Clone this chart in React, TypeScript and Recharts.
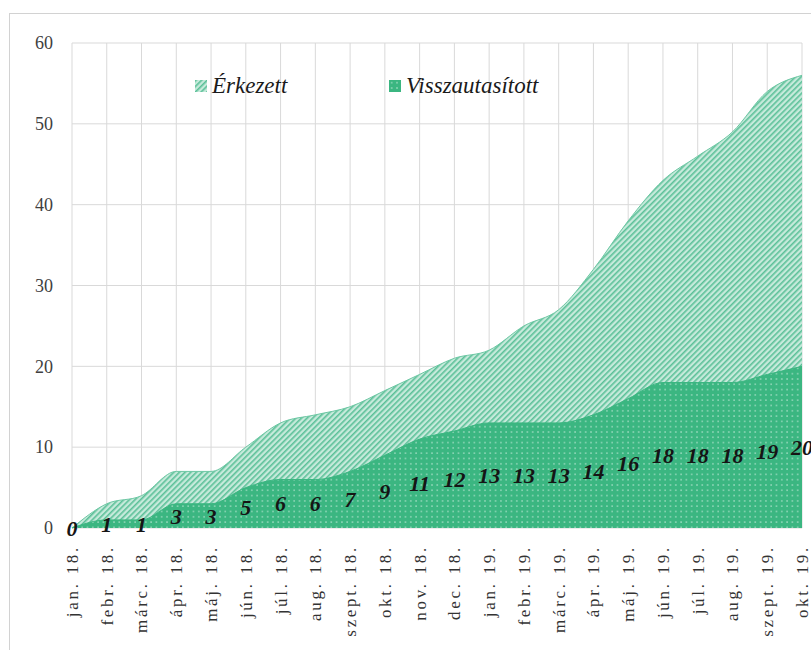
import { AreaChart, Area, XAxis, YAxis, CartesianGrid, Legend, LabelList } from 'recharts'

const months = [
  'jan. 18.', 'febr. 18.', 'márc. 18.', 'ápr. 18.', 'máj. 18.', 'jún. 18.', 'júl. 18.', 'aug. 18.',
  'szept. 18.', 'okt. 18.', 'nov. 18.', 'dec. 18.', 'jan. 19.', 'febr. 19.', 'márc. 19.', 'ápr. 19.',
  'máj. 19.', 'jún. 19.', 'júl. 19.', 'aug. 19.', 'szept. 19.', 'okt. 19.',
]
const arrived = [0, 3, 4, 7, 7, 10, 13, 14, 15, 17, 19, 21, 22, 25, 27, 32, 38, 43, 46, 49, 54, 56]
const rejected = [0, 1, 1, 3, 3, 5, 6, 6, 7, 9, 11, 12, 13, 13, 13, 14, 16, 18, 18, 18, 19, 20]
const yTicks = [0, 10, 20, 30, 40, 50, 60]

const data = months.map((m, i) => ({ month: m, arrived: arrived[i], rejected: rejected[i] }))

const W = 811
const H = 650
const TOP = 43
const X_AXIS_H = 122
const PLOT_BOTTOM = H - X_AXIS_H
const SERIF = "'Liberation Serif', 'Times New Roman', serif"

const XTick = ({ x, y, payload }: any) => (
  <text
    x={x}
    y={y + 17}
    transform={`rotate(-90, ${x}, ${y + 17})`}
    textAnchor="end"
    dy="0.35em"
    fill="#333"
    fontSize={17}
    letterSpacing={2.7}
    style={{ fontFamily: SERIF }}
  >
    {payload.value}
  </text>
)

const YTick = ({ x, y, payload }: any) => (
  <text x={x} y={y} dy="0.35em" textAnchor="end" fill="#404040" fontSize={18} style={{ fontFamily: SERIF }}>
    {payload.value}
  </text>
)

// value labels sit halfway up the rejected area
const MidLabel = ({ x, y, value }: any) => {
  const mid = (y + PLOT_BOTTOM) / 2
  return (
    <text
      x={x}
      y={mid}
      dy="0.35em"
      textAnchor="middle"
      fill="#151515"
      fontSize={22}
      fontWeight="bold"
      fontStyle="italic"
      style={{ fontFamily: SERIF }}
    >
      {value}
    </text>
  )
}

const legendItems = [
  { label: 'Érkezett', fill: 'url(#hatch)', width: 194 },
  { label: 'Visszautasított', fill: 'url(#dots)', width: 200 },
]

const renderLegend = () => (
  <div style={{ display: 'flex', alignItems: 'center' }}>
    {legendItems.map((it) => (
      <div key={it.label} style={{ width: it.width, display: 'flex', alignItems: 'center' }}>
        <svg width={12} height={12} style={{ marginRight: 5 }}>
          <rect width={12} height={12} fill={it.fill} />
        </svg>
        <span style={{ fontFamily: SERIF, fontStyle: 'italic', fontSize: 23, color: '#1a1a1a' }}>{it.label}</span>
      </div>
    ))}
  </div>
)

export default function App() {
  return (
    <div style={{ position: 'absolute', left: 0, top: 0, width: W, height: H, overflow: 'hidden', background: '#fff' }}>
      <div
        style={{
          position: 'absolute',
          left: 9,
          top: 13,
          width: 900,
          height: 700,
          border: '1px solid #d2d2d2',
        }}
      />
      <div style={{ position: 'absolute', left: 0, top: 0 }}>
        <AreaChart width={W} height={H} data={data} margin={{ top: TOP, right: 9, left: 0, bottom: 0 }}>
          <defs>
            <pattern id="hatch" width={4} height={4} patternUnits="userSpaceOnUse" patternTransform="rotate(45)">
              <rect width={4} height={4} fill="#c6eadb" />
              <rect width={1.6} height={4} fill="#5bc098" />
            </pattern>
            <pattern id="dots" width={5.3} height={5.3} patternUnits="userSpaceOnUse">
              <rect width={5.3} height={5.3} fill="#3bb681" />
              <rect x={2} y={2} width={1.4} height={1.4} fill="#ffffff" fillOpacity={0.55} />
            </pattern>
          </defs>
          <CartesianGrid stroke="#d9d9d9" />
          <XAxis
            dataKey="month"
            interval={0}
            height={X_AXIS_H}
            tick={<XTick />}
            tickLine={false}
            axisLine={false}
            tickSize={0}
            tickMargin={0}
          />
          <YAxis
            width={72}
            domain={[0, 60]}
            ticks={yTicks}
            tickLine={false}
            axisLine={false}
            tickSize={0}
            tickMargin={19}
            tick={<YTick />}
          />
          <Legend
            content={renderLegend}
            layout="horizontal"
            verticalAlign="middle"
            align="center"
            wrapperStyle={{ position: 'absolute', top: 73, left: 195, width: 420 }}
          />
          <Area
            type="monotone"
            dataKey="arrived"
            name="Érkezett"
            stroke="#6cc7a3"
            strokeWidth={1}
            fill="url(#hatch)"
            fillOpacity={1}
            isAnimationActive={false}
          />
          <Area
            type="monotone"
            dataKey="rejected"
            name="Visszautasított"
            stroke="#3bb681"
            strokeWidth={1}
            fill="url(#dots)"
            fillOpacity={1}
            isAnimationActive={false}
          >
            <LabelList dataKey="rejected" content={<MidLabel />} />
          </Area>
        </AreaChart>
      </div>
    </div>
  )
}
